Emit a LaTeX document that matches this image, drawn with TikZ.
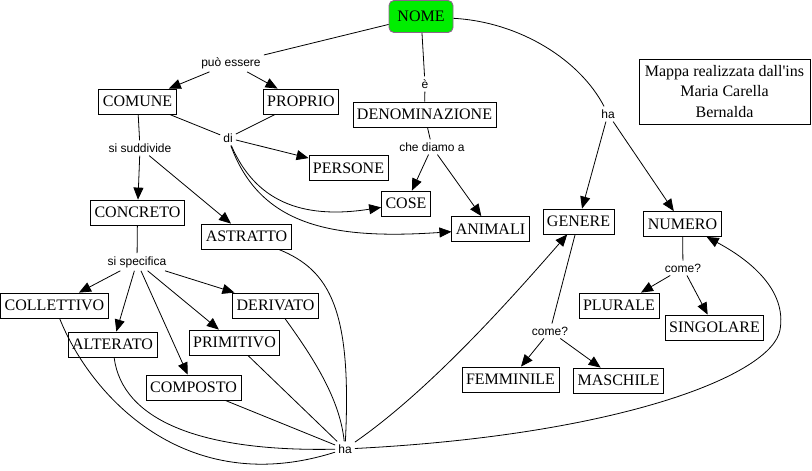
\documentclass[tikz,border=0pt]{standalone}
\usepackage{fontspec}
\setmainfont{Liberation Serif}
\newfontfamily\lblfont{Liberation Sans}
\usetikzlibrary{arrows.meta}
\definecolor{nomegreen}{RGB}{0,238,0}
\definecolor{nomeborder}{RGB}{140,100,140}
\begin{document}
\begin{tikzpicture}[x=1pt,y=-1pt,
  box/.style={draw, line width=0.8pt, font=\fontsize{16}{18}\selectfont,
    inner xsep=4pt, inner ysep=0pt, minimum height=25pt, text height=10.6pt, text depth=0pt},
  nomebox/.style={draw=nomeborder, fill=nomegreen, line width=0.9pt, rounded corners=5pt,
    font=\fontsize{16}{18}\selectfont, inner sep=0pt, minimum width=64pt, minimum height=32pt,
    text height=10.6pt, text depth=0pt},
  infobox/.style={draw, line width=0.8pt, font=\fontsize{16}{20.5}\selectfont, align=center,
    inner sep=0pt, minimum width=171pt, minimum height=65pt},
  lbl/.style={font=\lblfont\fontsize{12}{14}\selectfont, inner sep=3pt},
  conn/.style={line width=0.8pt},
  arr/.style={line width=0.8pt, -{Triangle[length=12pt,width=10pt]}}
]
\useasboundingbox (0,0) rectangle (812,471);

% concept nodes
\node[nomebox] (nome) at (421,16.5) {NOME};
\node[box] (comune) at (137.5,101.5) {COMUNE};
\node[box] (proprio) at (301,101.5) {PROPRIO};
\node[box] (denom) at (424.5,114.5) {DENOMINAZIONE};
\node[box] (persone) at (348.5,168) {PERSONE};
\node[box] (cose) at (406,203.5) {COSE};
\node[box] (animali) at (490.5,229) {ANIMALI};
\node[box] (concreto) at (137.5,212.5) {CONCRETO};
\node[box] (astratto) at (246.5,236.5) {ASTRATTO};
\node[box] (collettivo) at (54.5,305.5) {COLLETTIVO};
\node[box] (alterato) at (112.5,344.5) {ALTERATO};
\node[box] (derivato) at (275.5,305.5) {DERIVATO};
\node[box] (primitivo) at (234.5,342.5) {PRIMITIVO};
\node[box] (composto) at (193.5,387.5) {COMPOSTO};
\node[box] (genere) at (578.5,221.5) {GENERE};
\node[box] (numero) at (682.5,224) {NUMERO};
\node[box] (plurale) at (619,305.5) {PLURALE};
\node[box] (singolare) at (714.5,327.5) {SINGOLARE};
\node[box] (femminile) at (510.5,379.5) {FEMMINILE};
\node[box] (maschile) at (618.5,380.5) {MASCHILE};
\node[infobox] (info) at (724.5,91.5) {Mappa realizzata dall\textquotesingle ins\\Maria Carella\\Bernalda};

% linking phrases
\node[lbl] (pe) at (231,63) {può essere};
\node[lbl] (e) at (425,84) {è};
\node[lbl] (di) at (228,138) {di};
\node[lbl] (ss) at (140,148) {si suddivide};
\node[lbl] (cda) at (432,147) {che diamo a};
\node[lbl] (sp) at (137,262) {si specifica};
\node[lbl] (ha1) at (608,114) {ha};
\node[lbl] (ha2) at (345,449) {ha};
\node[lbl] (cg) at (550,331) {come?};
\node[lbl] (cn) at (683,268) {come?};

% connectors
\draw[conn] (nome) -- (pe);
\draw[arr] (pe) -- (comune);
\draw[arr] (pe) -- (proprio);
\draw[conn] (nome) -- (e);
\draw[conn] (e) -- (denom);
\draw[conn] (comune) -- (di);
\draw[conn] (proprio) -- (di);
\draw[arr] (di) -- (persone);
\draw[arr] (di) .. controls (255,200) and (300,220) .. (cose);
\draw[arr] (di) .. controls (260,225) and (330,240) .. (animali);
\draw[conn] (denom) -- (cda);
\draw[arr] (cda) -- (cose);
\draw[arr] (cda) -- (animali);
\draw[conn] (comune) -- (ss);
\draw[arr] (ss) -- (concreto);
\draw[arr] (ss) -- (astratto);
\draw[conn] (concreto) -- (sp);
\draw[arr] (sp) -- (collettivo);
\draw[arr] (sp) -- (alterato);
\draw[arr] (sp) -- (composto);
\draw[arr] (sp) -- (primitivo);
\draw[arr] (sp) -- (derivato);
\draw[conn] (astratto) .. controls (330,270) and (352,310) .. (ha2);
\draw[conn] (derivato) .. controls (315,360) and (340,400) .. (ha2);
\draw[conn] (primitivo) -- (ha2);
\draw[conn] (composto) -- (ha2);
\draw[conn] (alterato) .. controls (122,420) and (200,452) .. (ha2);
\draw[conn] (collettivo) .. controls (90,395) and (185,500) .. (ha2);
\draw[arr] (ha2) .. controls (430,390) and (510,300) .. (genere);
\draw[arr] (ha2) .. controls (620,435) and (772,375) .. (780,330)
  .. controls (787,290) and (750,260) .. (numero);
\draw[conn] (nome) .. controls (520,22) and (580,60) .. (ha1);
\draw[arr] (ha1) -- (genere);
\draw[arr] (ha1) -- (numero);
\draw[conn] (genere) -- (cg);
\draw[arr] (cg) -- (femminile);
\draw[arr] (cg) -- (maschile);
\draw[conn] (numero) -- (cn);
\draw[arr] (cn) -- (plurale);
\draw[arr] (cn) -- (singolare);
\end{tikzpicture}
\end{document}
